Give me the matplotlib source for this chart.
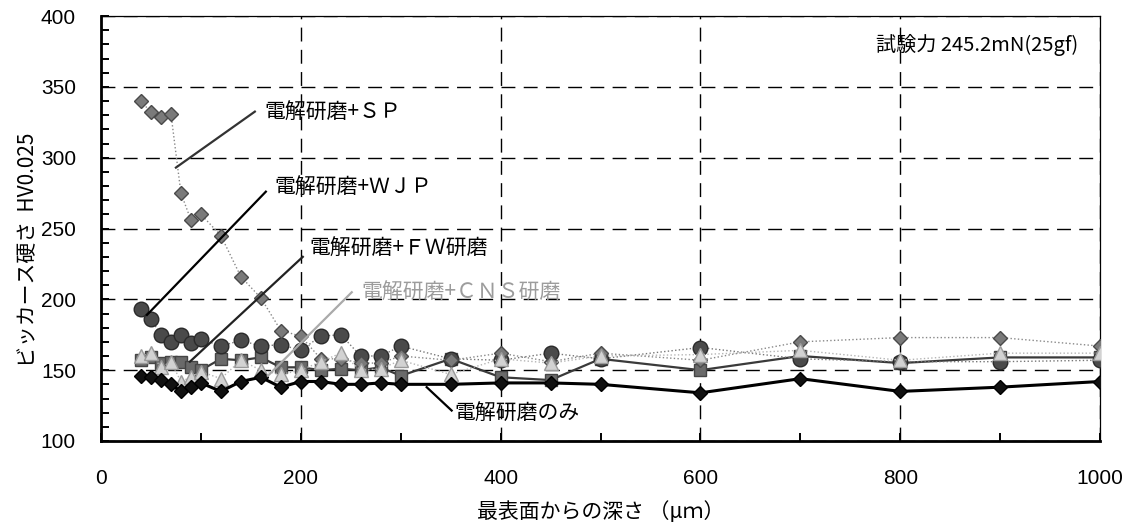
import matplotlib
matplotlib.use("Agg")
import matplotlib.pyplot as plt
from matplotlib.ticker import MultipleLocator

JP = ["Noto Sans CJK JP", "DejaVu Sans"]
NUM = ["Liberation Sans", "DejaVu Sans"]

# depth from the outermost surface (um)
depth = [40, 50, 60, 70, 80, 90, 100, 120, 140, 160, 180, 200, 220, 240,
         260, 280, 300, 350, 400, 450, 500, 600, 700, 800, 900, 1000]

# Vickers hardness HV0.025 for each surface treatment
hv_sp = [340, 332, 329, 331, 275, 256, 260, 245, 216, 201, 178, 174, 158, 158,
         155, 155, 160, 157, 162, 156, 162, 157, 170, 173, 173, 167]
hv_wjp = [193, 186, 175, 170, 175, 169, 172, 167, 171, 167, 168, 164, 174, 175,
          160, 160, 167, 158, 157, 162, 158, 166, 158, 156, 156, 157]
hv_fw = [157, 159, 155, 156, 156, 152, 150, 158, 157, 159, 152, 152, 150, 151,
         150, 152, 146, 158, 145, 143, 158, 150, 160, 155, 159, 159]
hv_cns = [160, 162, 152, 156, 142, 145, 149, 144, 157, 150, 147, 150, 156, 162,
          150, 151, 157, 147, 158, 155, 160, 161, 164, 157, 162, 162]
hv_ep = [146, 145, 143, 140, 135, 138, 141, 135, 142, 145, 138, 142, 142, 140,
         140, 141, 140, 140, 141, 141, 140, 134, 144, 135, 138, 142]

fig = plt.figure(figsize=(11.31, 5.24), dpi=100)
ax = fig.add_axes([101 / 1131, 1 - 441 / 524, 999 / 1131, 425 / 524])

ax.plot(depth, hv_fw, color="#3a3a3a", lw=1.6, marker="s", ms=9,
        mfc="#6a6a6a", mec="#454545", zorder=3)
ax.plot(depth, hv_wjp, color="#777777", lw=1.0, ls=":", marker="o", ms=10.5,
        mfc="#4a4a4a", mec="#2a2a2a", zorder=4)
ax.plot(depth, hv_sp, color="#888888", lw=1.0, ls=":", marker="D", ms=7,
        mfc="#7a7a7a", mec="#4a4a4a", zorder=5)
ax.plot(depth, hv_cns, color="#b5b5b5", lw=1.0, ls=":", marker="^", ms=10,
        mfc="#d2d2d2", mec="#9a9a9a", zorder=6)
ax.plot(depth, hv_ep, color="black", lw=2.2, marker="D", ms=7,
        mfc="#111111", mec="black", zorder=7)

ax.set_xlim(0, 1000)
ax.set_ylim(100, 400)
ax.xaxis.set_major_locator(MultipleLocator(200))
ax.xaxis.set_minor_locator(MultipleLocator(100))
ax.yaxis.set_major_locator(MultipleLocator(50))
ax.yaxis.set_minor_locator(MultipleLocator(10))
ax.tick_params(which="both", direction="in", length=6, width=1.4)
ax.tick_params(axis="x", pad=20, labelsize=15)
ax.tick_params(axis="y", pad=18, labelsize=15)
for lab in ax.get_xticklabels() + ax.get_yticklabels():
    lab.set_family(NUM)

ax.grid(True, which="major", color="black", lw=1.0, ls=(0, (10, 6)))
ax.set_axisbelow(True)
for side in ("left", "bottom"):
    ax.spines[side].set_linewidth(2.0)
for side in ("top", "right"):
    ax.spines[side].set_linewidth(0.9)

ax.set_xlabel("最表面からの深さ （μｍ）", family=JP, fontsize=15)
ax.xaxis.set_label_coords(0.5, -0.167)
ax.xaxis.label.set_va("center")
ax.set_ylabel("ビッカース硬さ  HV0.025", family=JP, fontsize=15)
ax.yaxis.set_label_coords(-0.073, 0.45)
ax.yaxis.label.set_va("center")

ax.text(0.978, 0.932, "試験力 245.2mN(25gf)", transform=ax.transAxes,
        ha="right", va="center", family=JP, fontsize=14.5)

# series labels with leader lines
labels = [
    ("電解研磨+ＳＰ", (75, 293), (154, 332.5), (164, 332), "#333333", "black"),
    ("電解研磨+ＷＪＰ", (46, 189), (165, 276), (174, 279), "black", "black"),
    ("電解研磨+ＦＷ研磨", (89, 156), (202, 230), (209, 236), "#222222", "black"),
    ("電解研磨+ＣＮＳ研磨", (167, 146), (251, 205), (261, 205), "#aaaaaa", "#9c9c9c"),
    ("電解研磨のみ", (326, 138), (351, 121.5), (354, 119.5), "black", "black"),
]
for text, p0, p1, pt, lc, tc in labels:
    ax.plot([p0[0], p1[0]], [p0[1], p1[1]], color=lc, lw=1.6, zorder=8)
    ax.text(pt[0], pt[1], text, ha="left", va="center", family=JP,
            fontsize=15, color=tc, zorder=9)

fig.savefig("out.png", dpi=100)
